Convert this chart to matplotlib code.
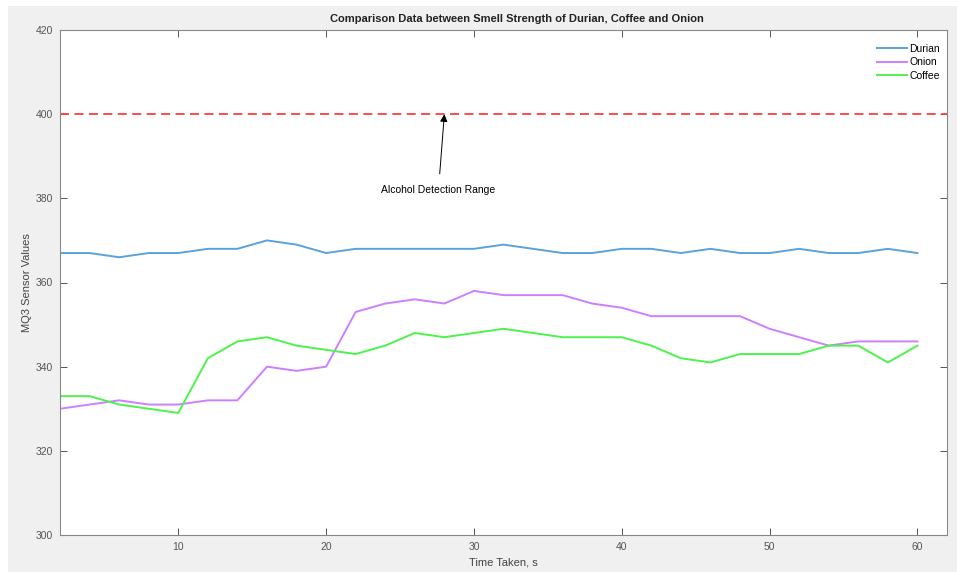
import matplotlib
matplotlib.use('Agg')
from matplotlib import pyplot as plt
from matplotlib.patches import Rectangle

plt.rcParams['font.family'] = ['Liberation Sans', 'DejaVu Sans']

time_s = [2, 4, 6, 8, 10, 12, 14, 16, 18, 20, 22, 24, 26, 28, 30,
          32, 34, 36, 38, 40, 42, 44, 46, 48, 50, 52, 54, 56, 58, 60]
durian = [367, 367, 366, 367, 367, 368, 368, 370, 369, 367, 368, 368, 368, 368, 368,
          369, 368, 367, 367, 368, 368, 367, 368, 367, 367, 368, 367, 367, 368, 367]
onion = [330, 331, 332, 331, 331, 332, 332, 340, 339, 340, 353, 355, 356, 355, 358,
         357, 357, 357, 355, 354, 352, 352, 352, 352, 349, 347, 345, 346, 346, 346]
coffee = [333, 333, 331, 330, 329, 342, 346, 347, 345, 344, 343, 345, 348, 347, 348,
          349, 348, 347, 347, 347, 345, 342, 341, 343, 343, 343, 345, 345, 341, 345]
alcohol_limit = 400

fig = plt.figure(figsize=(9.57, 5.72), dpi=100, facecolor='white')
# grey MATLAB-like figure panel
fig.patches.append(Rectangle((8 / 957, 0), 1, 1 - 6 / 572, transform=fig.transFigure,
                             facecolor='#f0f0f0', edgecolor='none', zorder=-10))

ax = fig.add_axes([60 / 957, 1 - 535 / 572, (947 - 60) / 957, (535 - 30) / 572])
ax.set_facecolor('white')

ax.plot(time_s, durian, color='#5aa2db', lw=1.4, label='Durian')
ax.plot(time_s, onion, color='#cc80ff', lw=1.4, label='Onion')
ax.plot(time_s, coffee, color='#4df24d', lw=1.4, label='Coffee')
ax.axhline(alcohol_limit, color='#ff3b3b', lw=1.3, ls=(0, (5, 3)))

ax.annotate('Alcohol Detection Range', xy=(28, alcohol_limit), xytext=(27.6, 382),
            ha='center', va='center', fontsize=7.5,
            arrowprops=dict(arrowstyle='-|>', color='black', lw=0.7,
                            mutation_scale=11, shrinkA=6, shrinkB=0))

ax.set_xlim(2, 62)
ax.set_ylim(300, 420)
ax.set_xticks([10, 20, 30, 40, 50, 60])
ax.set_yticks([300, 320, 340, 360, 380, 400, 420])
ax.tick_params(direction='in', length=5, width=0.7, colors='#555555', labelsize=7.5,
               top=True, right=True, pad=5)
for s in ax.spines.values():
    s.set_color('#888888')
    s.set_linewidth(0.8)

ax.set_title('Comparison Data between Smell Strength of Durian, Coffee and Onion',
             fontsize=8, fontweight='bold', color='#222222', pad=6, x=0.515)
ax.set_xlabel('Time Taken, s', fontsize=8, color='#444444', labelpad=4)
ax.set_ylabel('MQ3 Sensor Values', fontsize=8, color='#444444', labelpad=3)

ax.legend(loc='upper right', frameon=False, fontsize=7.5, handlelength=2.9,
          handletextpad=0.15, labelspacing=0.35, borderaxespad=0.9,
          bbox_to_anchor=(1.007, 1.0))

plt.savefig('out.png', dpi=100)
